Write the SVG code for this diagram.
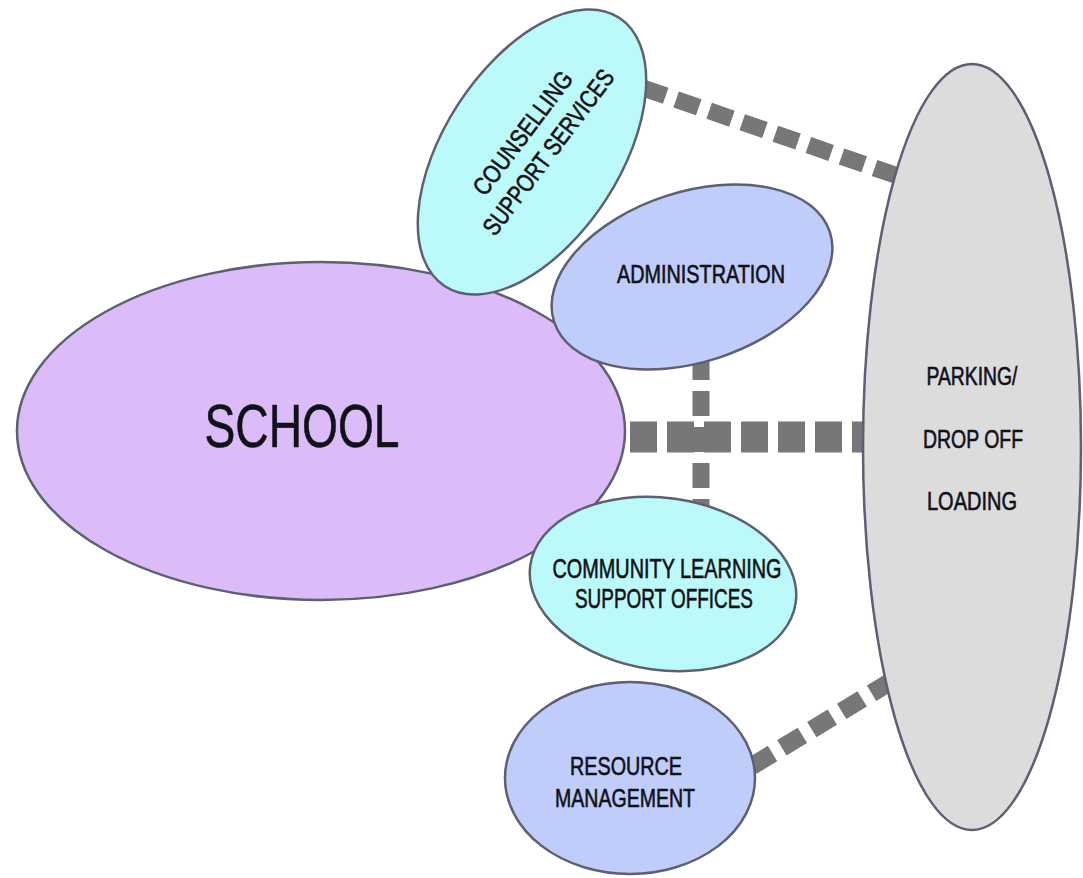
<svg xmlns="http://www.w3.org/2000/svg" width="1083" height="878" viewBox="0 0 1083 878">
<style>
.node{stroke:#5c6070;stroke-width:2.5}
.school{fill:#dcbcf8}
.cyan{fill:#bcfafa}
.blue{fill:#c0cdfa}
.grey{fill:#dcdcdc}
.conn{stroke:#777;fill:none}
.t{font-family:"Liberation Sans",Arial,sans-serif;fill:#111118;text-anchor:middle;stroke:#111118;stroke-width:0.6}
</style>
<rect width="1083" height="878" fill="#fff"/>
<g id="connectors">
<line class="conn" x1="643" y1="88" x2="898" y2="176" stroke-width="17" stroke-dasharray="24,11"/>
<line class="conn" x1="752" y1="766" x2="890" y2="682" stroke-width="18" stroke-dasharray="24,11"/>
<line class="conn" x1="618" y1="437" x2="866" y2="437" stroke-width="31" stroke-dasharray="27,10" stroke-dashoffset="-12"/>
<line class="conn" x1="701" y1="355" x2="701" y2="512" stroke-width="17" stroke-dasharray="25,11"/>
</g>
<g id="parking">
<ellipse class="node grey" cx="972" cy="447" rx="109" ry="383"/>
<text class="t" x="972" y="385" font-size="25" textLength="91" lengthAdjust="spacingAndGlyphs">PARKING/</text>
<text class="t" x="973" y="448" font-size="25" textLength="100" lengthAdjust="spacingAndGlyphs">DROP OFF</text>
<text class="t" x="972" y="510" font-size="25" textLength="90" lengthAdjust="spacingAndGlyphs">LOADING</text>
</g>
<g id="school">
<ellipse class="node school" cx="321" cy="431" rx="304" ry="169"/>
<text class="t" x="302" y="447" font-size="61" textLength="195" lengthAdjust="spacingAndGlyphs">SCHOOL</text>
</g>
<g id="counselling">
<ellipse class="node cyan" cx="532" cy="152" rx="160" ry="88" transform="rotate(-57 532 152)"/>
<g transform="translate(536 143) rotate(-53)">
<text class="t" x="0" y="-8" font-size="25" textLength="148" lengthAdjust="spacingAndGlyphs">COUNSELLING</text>
<text class="t" x="0" y="24" font-size="25" textLength="200" lengthAdjust="spacingAndGlyphs">SUPPORT SERVICES</text>
</g>
</g>
<g id="administration">
<ellipse class="node blue" cx="692" cy="277" rx="145" ry="85" transform="rotate(-18 692 277)"/>
<text class="t" x="701" y="283" font-size="25" textLength="168" lengthAdjust="spacingAndGlyphs">ADMINISTRATION</text>
</g>
<g id="community">
<ellipse class="node cyan" cx="663" cy="584" rx="134" ry="86" transform="rotate(8 663 584)"/>
<text class="t" x="667" y="578" font-size="27" textLength="229" lengthAdjust="spacingAndGlyphs">COMMUNITY LEARNING</text>
<text class="t" x="664" y="608" font-size="27" textLength="178" lengthAdjust="spacingAndGlyphs">SUPPORT OFFICES</text>
</g>
<g id="resource">
<ellipse class="node blue" cx="630" cy="778" rx="125" ry="96"/>
<text class="t" x="626" y="775" font-size="25" textLength="112" lengthAdjust="spacingAndGlyphs">RESOURCE</text>
<text class="t" x="625" y="807" font-size="25" textLength="140" lengthAdjust="spacingAndGlyphs">MANAGEMENT</text>
</g>
</svg>
